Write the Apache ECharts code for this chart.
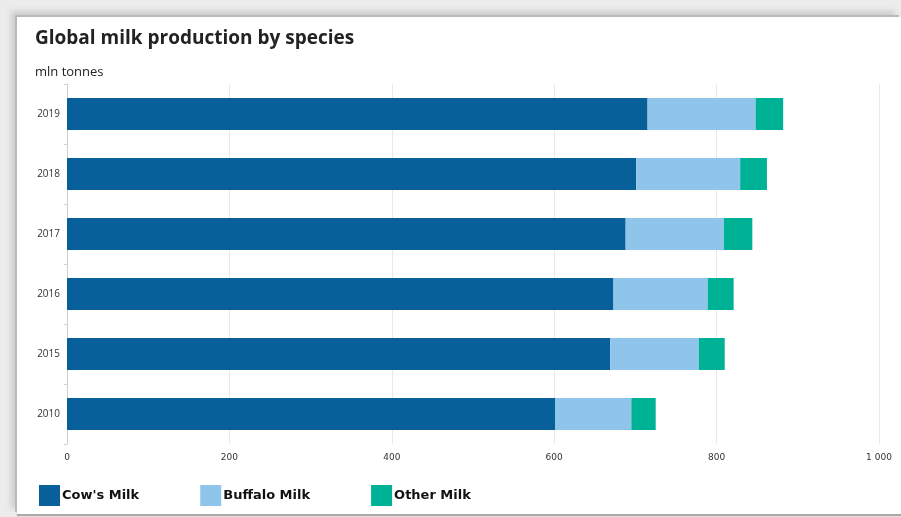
<!DOCTYPE html>
<html>
<head>
<meta charset="utf-8">
<script src="https://cdn.jsdelivr.net/npm/echarts@6/dist/echarts.min.js"></script>
<style>
  html, body { margin: 0; padding: 0; background: #ececec; }
  #frame {
    position: absolute; left: 17px; top: 17px; width: 884px; height: 497px;
    background: #fff;
    box-shadow: -2px -2px 0 #b9b9b9, -6px -6px 6px #cdcdcd, 0 2px 1px #a8a8a8;
  }
  #main { position: absolute; left: 0; top: 0; width: 901px; height: 517px; }
</style>
</head>
<body>
<div id="frame"></div>
<div id="main"></div>
<script>
// years, bottom to top
var years = ['2010', '2015', '2016', '2017', '2018', '2019'];
var cowMilk = [601, 669, 673, 688, 701, 715];
var buffaloMilk = [94, 109, 116, 121, 128, 133];
var otherMilk = [30, 32, 32, 35, 33, 34];
var xTicks = [0, 200, 400, 600, 800, 1000];

var chart = echarts.init(document.getElementById('main'), null, { renderer: 'canvas' });

var option = {
    backgroundColor: 'transparent',
    animation: false,
    title: [
        {
            text: 'Global milk production by species',
            left: 30, top: 24,
            textStyle: { fontFamily: 'Open Sans', fontWeight: 'bold', fontSize: 19, color: '#222' }
        },
        {
            text: 'mln tonnes',
            left: 30, top: 61,
            textStyle: { fontFamily: 'Open Sans', fontWeight: 'normal', fontSize: 13, color: '#222' }
        }
    ],
    legend: {
        left: 34, top: 480,
        icon: 'rect',
        itemWidth: 21, itemHeight: 21,
        itemGap: 61,
        textStyle: { fontFamily: 'DejaVu Sans', fontWeight: 'bold', fontSize: 13, color: '#111', padding: [0, 0, 0, -3] },
        data: ["Cow's Milk", 'Buffalo Milk', 'Other Milk']
    },
    grid: { left: 67, right: 22, top: 84, bottom: 73 },
    xAxis: {
        type: 'value',
        min: 0, max: 1000, interval: 200,
        axisLine: { show: false },
        axisTick: { show: false },
        axisLabel: {
            fontFamily: 'DejaVu Sans', fontSize: 9, color: '#333', margin: 9,
            formatter: function (v) {
                return xTicks.indexOf(v) < 0 ? '' : String(v).replace(/\B(?=(\d{3})+(?!\d))/g, ' ');
            }
        },
        splitLine: { show: true, lineStyle: { color: '#e8e8e8' } }
    },
    yAxis: {
        type: 'category',
        data: years,
        axisLine: { show: true, lineStyle: { color: '#d0d0d0' } },
        axisTick: { show: true, length: 3, lineStyle: { color: '#d0d0d0' } },
        axisLabel: { fontFamily: 'Open Sans', fontSize: 10, color: '#333', margin: 7 }
    },
    series: [
        {
            name: "Cow's Milk", type: 'bar', stack: 'milk',
            barWidth: 32,
            itemStyle: { color: '#07609a' },
            data: cowMilk
        },
        {
            name: 'Buffalo Milk', type: 'bar', stack: 'milk',
            itemStyle: { color: '#8fc5eb' },
            data: buffaloMilk
        },
        {
            name: 'Other Milk', type: 'bar', stack: 'milk',
            itemStyle: { color: '#00b295' },
            data: otherMilk
        }
    ]
};

option && chart.setOption(option);
</script>
</body>
</html>
